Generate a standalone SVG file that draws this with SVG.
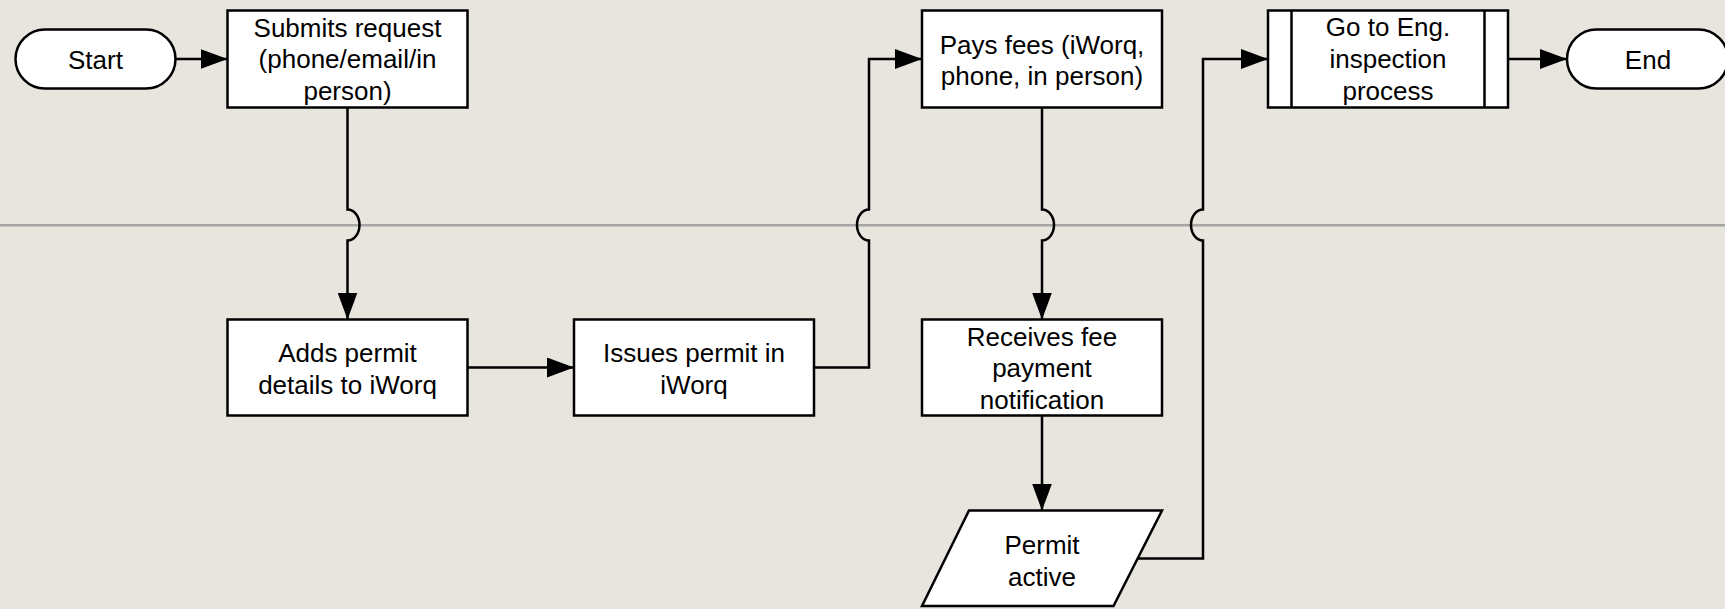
<svg xmlns="http://www.w3.org/2000/svg" width="1725" height="609" viewBox="0 0 1725 609">
  <defs>
    <marker id="arrow" markerUnits="userSpaceOnUse" markerWidth="27" markerHeight="20" refX="27" refY="10" orient="auto">
      <path d="M0,0 L27,10 L0,20 Z" fill="#000"/>
    </marker>
    <style>
      .node { fill: #fff; stroke: #000; stroke-width: 2.5; }
      .edge { fill: none; stroke: #000; stroke-width: 2.5; marker-end: url(#arrow); }
      .plain { fill: none; stroke: #000; stroke-width: 2.5; }
      .lane { stroke: #a6a6a4; stroke-width: 2.6; }
      text { font-family: "Liberation Sans", Arial, Helvetica, sans-serif; font-size: 26px; fill: #000; text-anchor: middle; }
    </style>
  </defs>

  <!-- background and swimlane divider -->
  <rect x="0" y="0" width="1725" height="609" fill="#e8e4de"/>
  <line class="lane" x1="0" y1="225.3" x2="1725" y2="225.3"/>

  <!-- connectors -->
  <g id="connectors">
    <path class="edge" d="M175.5,59 H227.5"/>
    <path class="edge" d="M347.5,107.5 V209.5 A12,15.5 0 0 1 347.5,240.5 V319.5"/>
    <path class="edge" d="M467.5,367.5 H574"/>
    <path class="edge" d="M814,367.5 H869 V240.5 A12,15.5 0 0 1 869,209.5 V59 H922"/>
    <path class="edge" d="M1042,107.5 V209.5 A12,15.5 0 0 1 1042,240.5 V319.5"/>
    <path class="edge" d="M1042,415.5 V510.5"/>
    <path class="edge" d="M1138,558.5 H1203 V240.5 A12,15.5 0 0 1 1203,209.5 V59 H1268"/>
    <path class="edge" d="M1508,59 H1567"/>
  </g>

  <!-- nodes -->
  <g id="start">
    <rect class="node" x="15.5" y="29.5" width="160" height="59" rx="29.5" ry="29.5"/>
    <text x="95.5" y="68.5">Start</text>
  </g>

  <g id="submits-request">
    <rect class="node" x="227.5" y="10.5" width="240" height="97"/>
    <text x="347.5" y="37">Submits request</text>
    <text x="347.5" y="68">(phone/email/in</text>
    <text x="347.5" y="99.5">person)</text>
  </g>

  <g id="adds-permit">
    <rect class="node" x="227.5" y="319.5" width="240" height="96"/>
    <text x="347.5" y="362">Adds permit</text>
    <text x="347.5" y="393.5">details to iWorq</text>
  </g>

  <g id="issues-permit">
    <rect class="node" x="574" y="319.5" width="240" height="96"/>
    <text x="694" y="362">Issues permit in</text>
    <text x="694" y="393.5">iWorq</text>
  </g>

  <g id="pays-fees">
    <rect class="node" x="922" y="10.5" width="240" height="97"/>
    <text x="1042" y="53.5">Pays fees (iWorq,</text>
    <text x="1042" y="84.5">phone, in person)</text>
  </g>

  <g id="receives-notification">
    <rect class="node" x="922" y="319.5" width="240" height="96"/>
    <text x="1042" y="346">Receives fee</text>
    <text x="1042" y="377">payment</text>
    <text x="1042" y="408.5">notification</text>
  </g>

  <g id="permit-active">
    <polygon class="node" points="969,510.5 1162,510.5 1113.5,606 922,606"/>
    <text x="1042" y="554">Permit</text>
    <text x="1042" y="585.5">active</text>
  </g>

  <g id="eng-inspection">
    <rect class="node" x="1268" y="10.5" width="240" height="97"/>
    <line class="plain" x1="1291.5" y1="10.5" x2="1291.5" y2="107.5"/>
    <line class="plain" x1="1484.5" y1="10.5" x2="1484.5" y2="107.5"/>
    <text x="1388" y="36">Go to Eng.</text>
    <text x="1388" y="67.5">inspection</text>
    <text x="1388" y="99.5">process</text>
  </g>

  <g id="end">
    <rect class="node" x="1567" y="29.5" width="161" height="59" rx="29.5" ry="29.5"/>
    <text x="1648" y="68.5">End</text>
  </g>
</svg>
